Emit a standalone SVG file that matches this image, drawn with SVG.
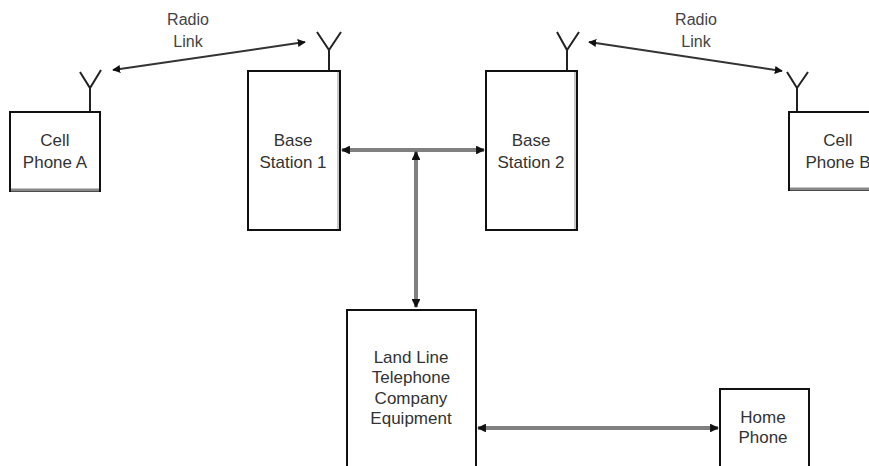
<svg xmlns="http://www.w3.org/2000/svg" width="869" height="466" viewBox="0 0 869 466">
<defs>
<style>
.box{fill:#fff;stroke:#111;stroke-width:2}
.shade{stroke:#c8c8c8;stroke-width:2;fill:none}
.ant{stroke:#222;stroke-width:2;fill:none}
.t{font-family:"Liberation Sans",Arial,sans-serif;font-size:17px;fill:#333;text-anchor:middle}
.lbl{font-family:"Liberation Sans",Arial,sans-serif;font-size:16px;fill:#444;text-anchor:middle}
.radio{stroke:#333;stroke-width:2;fill:none}
.wire{stroke:#808080;stroke-width:4;fill:none}
</style>
<marker id="ah" viewBox="0 0 10 10" refX="9" refY="5" markerWidth="4" markerHeight="4" orient="auto-start-reverse" markerUnits="strokeWidth">
<path d="M0,0 L10,5 L0,10 z" fill="#111"/>
</marker>
<marker id="ahw" viewBox="0 0 10 10" refX="9" refY="5" markerWidth="2.2" markerHeight="2.2" orient="auto-start-reverse" markerUnits="strokeWidth">
<path d="M0,0 L10,5 L0,10 z" fill="#111"/>
</marker>
</defs>
<g id="connectors">
<line class="radio" x1="113" y1="70" x2="305" y2="42" marker-start="url(#ah)" marker-end="url(#ah)"/>
<line class="radio" x1="589" y1="42" x2="782" y2="71" marker-start="url(#ah)" marker-end="url(#ah)"/>
<line class="wire" x1="342" y1="150" x2="484" y2="150" marker-start="url(#ahw)" marker-end="url(#ahw)"/>
<line class="wire" x1="416" y1="152" x2="416" y2="307" marker-start="url(#ahw)" marker-end="url(#ahw)"/>
<line class="wire" x1="478" y1="428" x2="718" y2="428" marker-start="url(#ahw)" marker-end="url(#ahw)"/>
<text class="lbl" x="188" y="25">Radio</text>
<text class="lbl" x="188" y="47">Link</text>
<text class="lbl" x="696" y="25">Radio</text>
<text class="lbl" x="696" y="47">Link</text>
</g>
<g id="cellA">
<polyline class="ant" points="80,72 90,88 101,70"/>
<line class="ant" x1="90" y1="88" x2="90" y2="112"/>
<rect class="box" x="10" y="112" width="90" height="79"/>
<line x1="11" y1="190" x2="99" y2="190" stroke="#888" stroke-width="3"/>
<text class="t" x="55" y="146">Cell</text>
<text class="t" x="55" y="168">Phone A</text>
</g>
<g id="bs1">
<polyline class="ant" points="317,32 329,50 341,32"/>
<line class="ant" x1="329" y1="50" x2="329" y2="71"/>
<rect class="box" x="248" y="71" width="92" height="159"/>
<line class="shade" x1="338" y1="72" x2="338" y2="229"/>
<text class="t" x="293" y="146">Base</text>
<text class="t" x="293" y="168">Station 1</text>
</g>
<g id="bs2">
<polyline class="ant" points="557,32 567,50 579,32"/>
<line class="ant" x1="567" y1="50" x2="567" y2="71"/>
<rect class="box" x="486" y="71" width="91" height="159"/>
<line class="shade" x1="575" y1="72" x2="575" y2="229"/>
<text class="t" x="531" y="146">Base</text>
<text class="t" x="531" y="168">Station 2</text>
</g>
<g id="cellB">
<polyline class="ant" points="787,72 797,88 808,72"/>
<line class="ant" x1="797" y1="88" x2="797" y2="112"/>
<rect class="box" x="789" y="112" width="90" height="78"/>
<line x1="790" y1="189" x2="869" y2="189" stroke="#888" stroke-width="3"/>
<text class="t" x="838" y="146">Cell</text>
<text class="t" x="838" y="168">Phone B</text>
</g>
<g id="landline">
<rect class="box" x="347" y="310" width="129" height="170"/>
<text class="t" x="411" y="363">Land Line</text>
<text class="t" x="411" y="383">Telephone</text>
<text class="t" x="411" y="404">Company</text>
<text class="t" x="411" y="424">Equipment</text>
</g>
<g id="home">
<rect class="box" x="720" y="389" width="89" height="90"/>
<text class="t" x="763" y="423">Home</text>
<text class="t" x="763" y="443">Phone</text>
</g>
</svg>
